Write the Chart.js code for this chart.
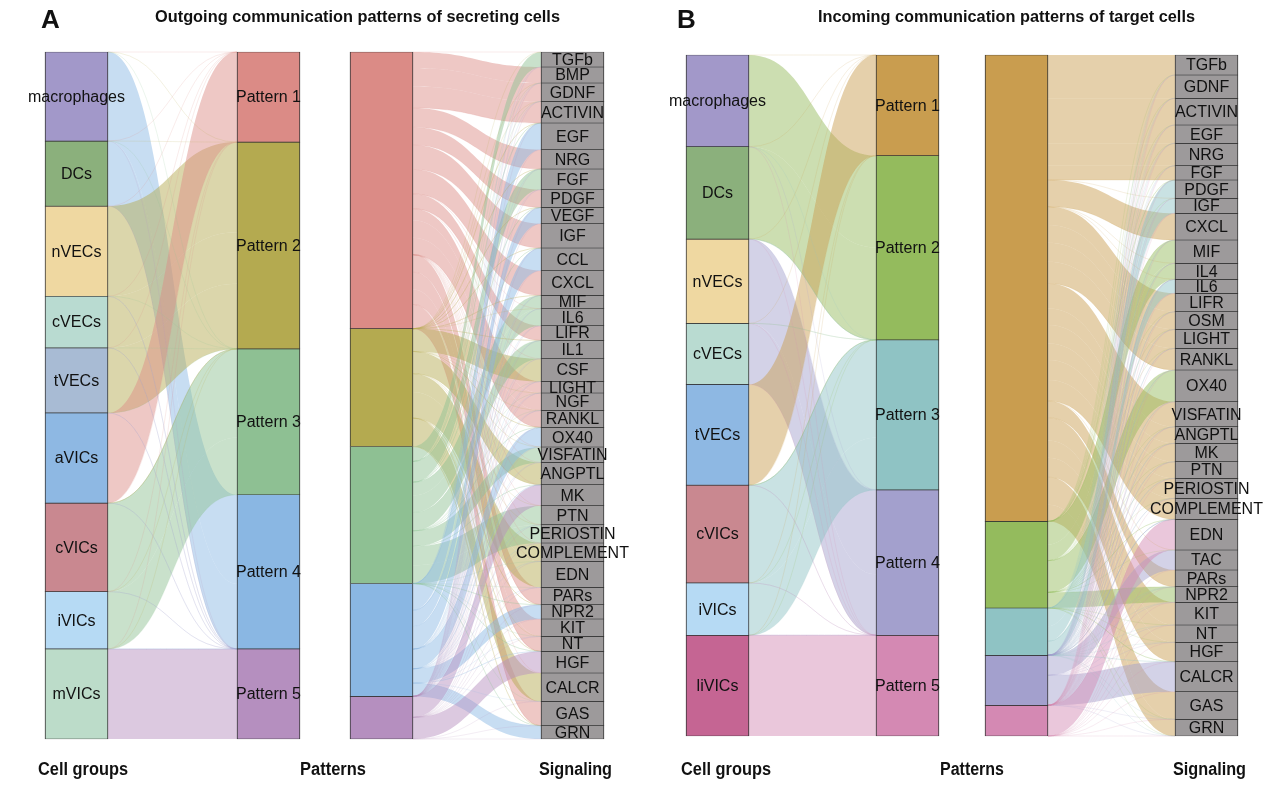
<!DOCTYPE html>
<html>
<head>
<meta charset="utf-8">
<script src="https://cdn.jsdelivr.net/npm/chart.js@4.4.0/dist/chart.umd.min.js"></script>
<style>
html, body { margin: 0; padding: 0; background: #fff; }
#wrap { position: relative; width: 1285px; height: 797px; overflow: hidden; font-family: "Liberation Sans", Arial, sans-serif; }
#wrap canvas { position: absolute; left: 0; top: 0; }
.lbl { position: absolute; font-weight: bold; color: #111; white-space: nowrap; transform-origin: 0 50%; line-height: 1; }
</style>
</head>
<body>
<div id="wrap">
  <canvas id="aLeft" width="1285" height="797"></canvas>
  <canvas id="aRight" width="1285" height="797"></canvas>
  <canvas id="bLeft" width="1285" height="797"></canvas>
  <canvas id="bRight" width="1285" height="797"></canvas>

  <div class="lbl" style="left:41px;top:6px;font-size:26px">A</div>
  <div class="lbl" data-w="405" style="left:155px;top:8px;font-size:17px">Outgoing communication patterns of secreting cells</div>
  <div class="lbl" style="left:677px;top:6px;font-size:26px">B</div>
  <div class="lbl" data-w="377" style="left:818px;top:8px;font-size:17px">Incoming communication patterns of target cells</div>

  <div class="lbl" data-w="90" style="left:38px;top:760px;font-size:18px">Cell groups</div>
  <div class="lbl" data-w="66" style="left:300px;top:760px;font-size:18px">Patterns</div>
  <div class="lbl" data-w="73" style="left:539px;top:760px;font-size:18px">Signaling</div>
  <div class="lbl" data-w="90" style="left:681px;top:760px;font-size:18px">Cell groups</div>
  <div class="lbl" data-w="64" style="left:940px;top:760px;font-size:18px">Patterns</div>
  <div class="lbl" data-w="73" style="left:1173px;top:760px;font-size:18px">Signaling</div>
</div>
<script>
// ---- data (A: outgoing) ----
const patterns = ['Pattern 1', 'Pattern 2', 'Pattern 3', 'Pattern 4', 'Pattern 5'];

const cellsA = ['macrophages', 'DCs', 'nVECs', 'cVECs', 'tVECs', 'aVICs', 'cVICs', 'iVICs', 'mVICs'];
const cellWeightsA = [89, 65, 90, 51.6, 65, 90, 88.4, 57.3, 90];
const cellPatternA = [4, 4, 2, 2, 2, 1, 3, 3, 5];

const signalsA = ['TGFb', 'BMP', 'GDNF', 'ACTIVIN', 'EGF', 'NRG', 'FGF', 'PDGF', 'VEGF', 'IGF', 'CCL', 'CXCL',
  'MIF', 'IL6', 'LIFR', 'IL1', 'CSF', 'LIGHT', 'NGF', 'RANKL', 'OX40', 'VISFATIN', 'ANGPTL', 'MK', 'PTN',
  'PERIOSTIN', 'COMPLEMENT', 'EDN', 'PARs', 'NPR2', 'KIT', 'NT', 'HGF', 'CALCR', 'GAS', 'GRN'];
const signalWeightsA = [15, 16, 18.4, 21.6, 26.7, 19.3, 20.7, 17.7, 16.3, 24.3, 22.7, 24.7,
  13.3, 17, 14.7, 18.3, 22.7, 11.6, 17.4, 17, 19.6, 15.4, 22.3, 21, 19,
  18.3, 18.4, 26, 17.3, 14.3, 17.4, 15, 21.6, 28.4, 24.3, 13.3];
const signalPatternA = [3, 1, 1, 1, 4, 1, 3, 1, 4, 1, 4, 1,
  3, 3, 1, 3, 2, 1, 1, 1, 4, 3, 2, 5, 3,
  3, 2, 2, 1, 4, 1, 1, 5, 2, 1, 4];

// ---- data (B: incoming) ----
const cellsB = ['macrophages', 'DCs', 'nVECs', 'cVECs', 'tVECs', 'cVICs', 'iVICs', 'liVICs'];
const cellWeightsB = [91.7, 92.3, 84.3, 61, 100.7, 97.7, 52.3, 100.7];
const cellPatternB = [2, 2, 4, 4, 1, 3, 3, 5];

const signalsB = ['TGFb', 'GDNF', 'ACTIVIN', 'EGF', 'NRG', 'FGF', 'PDGF', 'IGF', 'CXCL', 'MIF', 'IL4', 'IL6',
  'LIFR', 'OSM', 'LIGHT', 'RANKL', 'OX40', 'VISFATIN', 'ANGPTL', 'MK', 'PTN', 'PERIOSTIN', 'COMPLEMENT',
  'EDN', 'TAC', 'PARs', 'NPR2', 'KIT', 'NT', 'HGF', 'CALCR', 'GAS', 'GRN'];
const signalWeightsB = [20, 23.3, 26.7, 18.3, 22.4, 14.3, 18.3, 15, 26.7, 23.3, 16, 14,
  18.4, 17.6, 19, 21.7, 31.7, 25, 16.6, 18.4, 16.6, 20, 21,
  30.7, 20, 16.7, 15.6, 22.7, 17.3, 19.4, 30, 27.6, 16.7];
const signalPatternB = [1, 1, 1, 1, 1, 1, 3, 3, 1, 2, 2, 3,
  1, 1, 1, 1, 2, 1, 1, 1, 1, 1, 1,
  5, 4, 1, 2, 1, 1, 1, 4, 1, 1];

// ---- colours ----
const cellColorsA = ['#A298C9', '#8BB07C', '#EFD8A1', '#B9DBD1', '#A8BBD4', '#8EB8E3', '#C98890', '#B6DAF4', '#BCDCC9'];
const patternColorsA = ['#DB8B86', '#B4AA50', '#8EC093', '#8AB7E3', '#B58FBF'];
const cellColorsB = ['#A298C9', '#8BB07C', '#EFD8A1', '#B9DBD1', '#8EB8E3', '#C98890', '#B6DAF4', '#C56593'];
const patternColorsB = ['#C99D4F', '#94BB5D', '#8FC3C4', '#A3A0CD', '#D489B3'];
const signalGrey = '#9D9A9B';

const BAR_W = 63;

function hexA(hex, a) {
  const n = parseInt(hex.slice(1), 16);
  return `rgba(${(n >> 16) & 255},${(n >> 8) & 255},${n & 255},${a})`;
}

// all pairs, the ones not in `pairs` get weight 0 (drawn as hairlines)
function buildFlows(nLeft, nRight, pairs) {
  const flows = [];
  for (let s = 0; s < nLeft; s++) {
    for (let t = 0; t < nRight; t++) {
      const p = pairs.find(q => q.s === s && q.t === t);
      flows.push({ s, t, w: p ? p.w : 0 });
    }
  }
  return flows;
}

function riverPlugin(flows, nLeft, nRight, flowColor, showLeft, showRight) {
  return {
    id: 'river',
    beforeDatasetsDraw(chart) {
      const ctx = chart.ctx;
      const xs = chart.scales.x, ys = chart.scales.y;
      const x0 = xs.getPixelForValue(0) + BAR_W / 2;
      const x1 = xs.getPixelForValue(1) - BAR_W / 2;
      const xm = (x0 + x1) / 2;

      const leftStart = [], rightStart = [];
      let acc = 0;
      for (let s = 0; s < nLeft; s++) {
        leftStart.push(acc);
        acc += flows.filter(f => f.s === s).reduce((a, f) => a + f.w, 0);
      }
      acc = 0;
      for (let t = 0; t < nRight; t++) {
        rightStart.push(acc);
        acc += flows.filter(f => f.t === t).reduce((a, f) => a + f.w, 0);
      }
      const sOff = new Map(), tOff = new Map();
      const bySrc = [...flows].sort((a, b) => a.s - b.s || a.t - b.t);
      const used = leftStart.slice();
      bySrc.forEach(f => { sOff.set(f, used[f.s]); used[f.s] += f.w; });
      const byTgt = [...flows].sort((a, b) => a.t - b.t || a.s - b.s);
      const usedT = rightStart.slice();
      byTgt.forEach(f => { tOff.set(f, usedT[f.t]); usedT[f.t] += f.w; });

      ctx.save();
      flows.filter(f => f.w > 0).forEach(f => {
        const a0 = ys.getPixelForValue(sOff.get(f));
        const a1 = ys.getPixelForValue(sOff.get(f) + f.w);
        const b0 = ys.getPixelForValue(tOff.get(f));
        const b1 = ys.getPixelForValue(tOff.get(f) + f.w);
        ctx.beginPath();
        ctx.moveTo(x0, a0);
        ctx.bezierCurveTo(xm, a0, xm, b0, x1, b0);
        ctx.lineTo(x1, b1);
        ctx.bezierCurveTo(xm, b1, xm, a1, x0, a1);
        ctx.closePath();
        ctx.fillStyle = hexA(flowColor(f), 0.48);
        ctx.fill();
      });
      ctx.lineWidth = 0.6;
      flows.filter(f => f.w === 0).forEach(f => {
        const a = ys.getPixelForValue(sOff.get(f));
        const b = ys.getPixelForValue(tOff.get(f));
        ctx.beginPath();
        ctx.moveTo(x0, a);
        ctx.bezierCurveTo(xm, a, xm, b, x1, b);
        ctx.strokeStyle = hexA(flowColor(f), 0.28);
        ctx.stroke();
      });
      ctx.restore();
    },
    afterDatasetsDraw(chart) {
      const ctx = chart.ctx;
      ctx.save();
      ctx.font = '16px "Liberation Sans", Arial, sans-serif';
      ctx.fillStyle = '#111';
      ctx.textAlign = 'center';
      ctx.textBaseline = 'middle';
      chart.data.datasets.forEach((ds, i) => {
        const side = ds.data[0] !== null ? 0 : 1;
        if ((side === 0 && !showLeft) || (side === 1 && !showRight)) return;
        const el = chart.getDatasetMeta(i).data[side];
        const p = el.getProps(['x', 'y', 'base'], true);
        ctx.fillText(ds.label, p.x, (p.y + p.base) / 2 + 1);
      });
      ctx.restore();
    }
  };
}

function makeRiver(id, o) {
  const flows = buildFlows(o.leftNames.length, o.rightNames.length, o.pairs);
  const leftVals = o.leftNames.map((_, s) => flows.filter(f => f.s === s).reduce((a, f) => a + f.w, 0));
  const rightVals = o.rightNames.map((_, t) => flows.filter(f => f.t === t).reduce((a, f) => a + f.w, 0));
  const total = leftVals.reduce((a, b) => a + b, 0);
  const common = { borderColor: '#333', borderWidth: { top: 0.7, bottom: 0.7, left: 1, right: 1 },
    borderSkipped: false, barThickness: BAR_W, clip: false };
  const datasets = [
    ...o.leftNames.map((n, i) => ({ label: n, data: [leftVals[i], null], backgroundColor: o.leftColors[i], ...common })),
    ...o.rightNames.map((n, i) => ({ label: n, data: [null, rightVals[i]], backgroundColor: o.rightColors[i], ...common }))
  ];
  new Chart(document.getElementById(id), {
    type: 'bar',
    data: { labels: ['left', 'right'], datasets },
    options: {
      responsive: false,
      animation: false,
      events: [],
      layout: { padding: { left: o.xL, right: 1285 - o.xR, top: o.top, bottom: 797 - o.bottom } },
      plugins: { legend: { display: false }, tooltip: { enabled: false } },
      scales: {
        x: { type: 'category', offset: false, stacked: true, display: false },
        y: { stacked: true, min: 0, max: total, reverse: true, display: false }
      }
    },
    plugins: [riverPlugin(flows, o.leftNames.length, o.rightNames.length, o.flowColor, o.showLeft, o.showRight)]
  });
}

makeRiver('aLeft', {
  leftNames: cellsA, leftColors: cellColorsA,
  rightNames: patterns, rightColors: patternColorsA,
  pairs: cellsA.map((c, i) => ({ s: i, t: cellPatternA[i] - 1, w: cellWeightsA[i] })),
  flowColor: f => patternColorsA[f.t],
  showLeft: true, showRight: true,
  xL: 76.5, xR: 268.5, top: 52, bottom: 739
});
makeRiver('aRight', {
  leftNames: patterns, leftColors: patternColorsA,
  rightNames: signalsA, rightColors: signalsA.map(() => signalGrey),
  pairs: signalsA.map((g, k) => ({ s: signalPatternA[k] - 1, t: k, w: signalWeightsA[k] })),
  flowColor: f => patternColorsA[f.s],
  showLeft: false, showRight: true,
  xL: 381.5, xR: 572.5, top: 52, bottom: 739
});
makeRiver('bLeft', {
  leftNames: cellsB, leftColors: cellColorsB,
  rightNames: patterns, rightColors: patternColorsB,
  pairs: cellsB.map((c, i) => ({ s: i, t: cellPatternB[i] - 1, w: cellWeightsB[i] })),
  flowColor: f => patternColorsB[f.t],
  showLeft: true, showRight: true,
  xL: 717.5, xR: 907.5, top: 55, bottom: 736
});
makeRiver('bRight', {
  leftNames: patterns, leftColors: patternColorsB,
  rightNames: signalsB, rightColors: signalsB.map(() => signalGrey),
  pairs: signalsB.map((g, k) => ({ s: signalPatternB[k] - 1, t: k, w: signalWeightsB[k] })),
  flowColor: f => patternColorsB[f.s],
  showLeft: false, showRight: true,
  xL: 1016.5, xR: 1206.5, top: 55, bottom: 736
});

// squeeze the bold captions to the widths of the reference
document.querySelectorAll('.lbl[data-w]').forEach(el => {
  const w = el.getBoundingClientRect().width;
  el.style.transform = `scaleX(${el.dataset.w / w})`;
});
</script>
</body>
</html>
